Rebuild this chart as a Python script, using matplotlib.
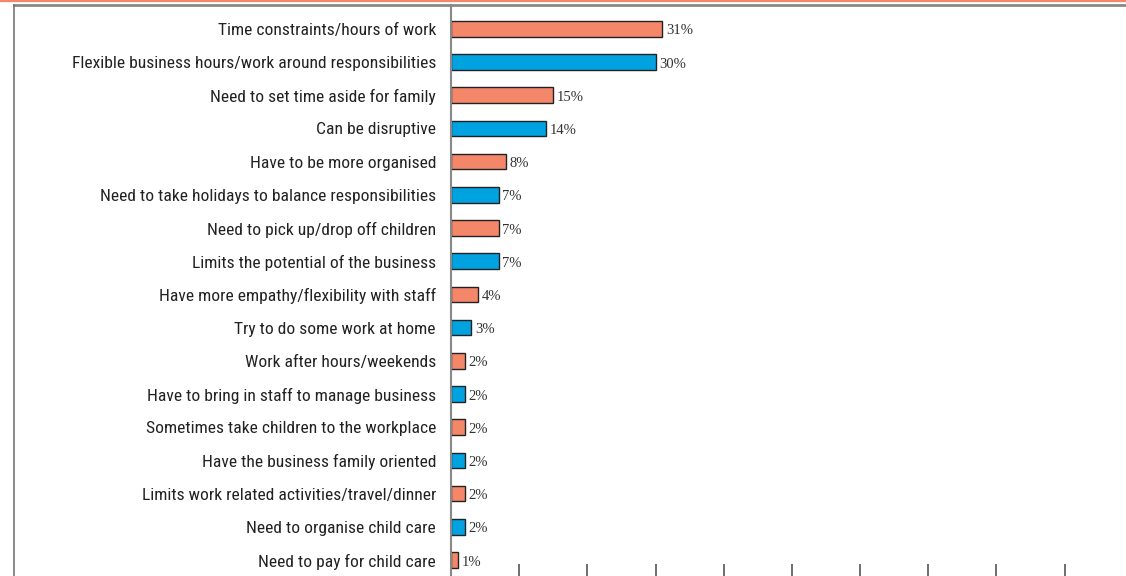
import matplotlib.pyplot as plt
from matplotlib.lines import Line2D

# Ways family responsibilities affect running the business (% of respondents)
categories = [
    "Time constraints/hours of work",
    "Flexible business hours/work around responsibilities",
    "Need to set time aside for family",
    "Can be disruptive",
    "Have to be more organised",
    "Need to take holidays to balance responsibilities",
    "Need to pick up/drop off children",
    "Limits the potential of the business",
    "Have more empathy/flexibility with staff",
    "Try to do some work at home",
    "Work after hours/weekends",
    "Have to bring in staff to manage business",
    "Sometimes take children to the workplace",
    "Have the business family oriented",
    "Limits work related activities/travel/dinner",
    "Need to organise child care",
    "Need to pay for child care",
]
values = [31, 30, 15, 14, 8, 7, 7, 7, 4, 3, 2, 2, 2, 2, 2, 2, 1]
bar_colors = ["#F4866A" if i % 2 == 0 else "#00A3E0" for i in range(len(values))]

plt.rcParams["font.family"] = ["Roboto Condensed", "DejaVu Sans"]

W, H, DPI = 1126, 576, 100
fig = plt.figure(figsize=(W / DPI, H / DPI), dpi=DPI)
ax = fig.add_axes([451 / W, 0, (W - 451) / W, (H - 5) / H])

ypos = list(range(len(values)))
ax.barh(ypos, values, height=0.47, color=bar_colors, edgecolor="#222222", linewidth=1.0)
for y, v in zip(ypos, values):
    ax.annotate(f"{v}%", (v, y), xytext=(2.5, -1.5), textcoords="offset points",
                ha="left", va="center", fontsize=10.5, color="#333333",
                family=["Liberation Serif", "DejaVu Serif"])

ax.set_xlim(0, 99.0)
ax.set_ylim(16.48, -0.72)
ax.set_yticks(ypos)
ax.set_yticklabels(categories, fontsize=12.6, color="#222222")
ax.tick_params(axis="y", length=0, pad=10.8)
ax.set_xticks(range(0, 100, 10))
ax.set_xticklabels([])
ax.tick_params(axis="x", direction="in", length=9, width=1.2, color="#555555")

for side in ["top", "right", "bottom"]:
    ax.spines[side].set_visible(False)
ax.spines["left"].set_color("#888888")
ax.spines["left"].set_linewidth(1.5)

# frame lines around the panel
fig.add_artist(Line2D([0, 1], [1 - 0.8 / H, 1 - 0.8 / H], color="#F4866A", linewidth=1.6,
                      transform=fig.transFigure))
fig.add_artist(Line2D([14 / W, 1], [1 - 4.5 / H, 1 - 4.5 / H], color="#888888", linewidth=2,
                      transform=fig.transFigure))
fig.add_artist(Line2D([14 / W, 14 / W], [0, 1 - 4.5 / H], color="#777777", linewidth=1.2,
                      transform=fig.transFigure))

fig.savefig("out.png", dpi=DPI)
